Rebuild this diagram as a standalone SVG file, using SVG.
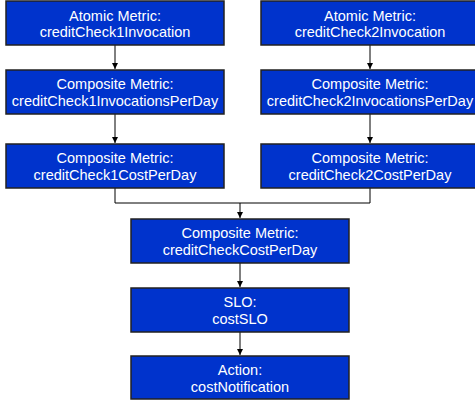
<svg xmlns="http://www.w3.org/2000/svg" width="475" height="402" viewBox="0 0 475 402">
<style>
.box{fill:#0033cc;stroke:#222;stroke-width:1.5}
.t{font-family:"Liberation Sans",Arial,sans-serif;font-size:14.5px;fill:#fff;text-anchor:middle}
.c{stroke:#000;stroke-width:1;fill:none}
</style>
<defs>
<marker id="ah" viewBox="0 0 6 6" refX="6" refY="3" markerWidth="6" markerHeight="6" markerUnits="userSpaceOnUse" orient="auto">
<path d="M0,0 L6,3 L0,6 Z" fill="#000"/>
</marker>
</defs>
<rect width="475" height="402" fill="#fff"/>
<g id="connectors">
<line class="c" x1="115" y1="45" x2="115" y2="69" marker-end="url(#ah)"/>
<line class="c" x1="370" y1="45" x2="370" y2="69" marker-end="url(#ah)"/>
<line class="c" x1="115" y1="114" x2="115" y2="143" marker-end="url(#ah)"/>
<line class="c" x1="370" y1="114" x2="370" y2="143" marker-end="url(#ah)"/>
<polyline class="c" points="115,188 115,203 370,203 370,188"/>
<line class="c" x1="240" y1="203" x2="240" y2="218" marker-end="url(#ah)"/>
<line class="c" x1="240" y1="263" x2="240" y2="287" marker-end="url(#ah)"/>
<line class="c" x1="240" y1="332" x2="240" y2="355" marker-end="url(#ah)"/>
</g>
<g id="atomic1">
<rect class="box" x="6" y="1" width="218" height="44"/>
<text class="t" x="115" y="20.5">Atomic Metric:</text>
<text class="t" x="115" y="36.5">creditCheck1Invocation</text>
</g>
<g id="atomic2">
<rect class="box" x="261" y="1" width="218" height="44"/>
<text class="t" x="370" y="20.5">Atomic Metric:</text>
<text class="t" x="370" y="36.5">creditCheck2Invocation</text>
</g>
<g id="invPerDay1">
<rect class="box" x="6" y="70" width="218" height="44"/>
<text class="t" x="115" y="88.5">Composite Metric:</text>
<text class="t" x="115" y="105.5">creditCheck1InvocationsPerDay</text>
</g>
<g id="invPerDay2">
<rect class="box" x="261" y="70" width="218" height="44"/>
<text class="t" x="370" y="88.5">Composite Metric:</text>
<text class="t" x="370" y="105.5">creditCheck2InvocationsPerDay</text>
</g>
<g id="cost1">
<rect class="box" x="6" y="144" width="218" height="44"/>
<text class="t" x="115" y="162.5">Composite Metric:</text>
<text class="t" x="115" y="179.5">creditCheck1CostPerDay</text>
</g>
<g id="cost2">
<rect class="box" x="261" y="144" width="218" height="44"/>
<text class="t" x="370" y="162.5">Composite Metric:</text>
<text class="t" x="370" y="179.5">creditCheck2CostPerDay</text>
</g>
<g id="costTotal">
<rect class="box" x="131" y="219" width="218" height="44"/>
<text class="t" x="240" y="237.5">Composite Metric:</text>
<text class="t" x="240" y="254.5">creditCheckCostPerDay</text>
</g>
<g id="slo">
<rect class="box" x="131" y="288" width="218" height="44"/>
<text class="t" x="240" y="306.5">SLO:</text>
<text class="t" x="240" y="323.5">costSLO</text>
</g>
<g id="action">
<rect class="box" x="131" y="356" width="218" height="43"/>
<text class="t" x="240" y="374.5">Action:</text>
<text class="t" x="240" y="391.5">costNotification</text>
</g>
</svg>
